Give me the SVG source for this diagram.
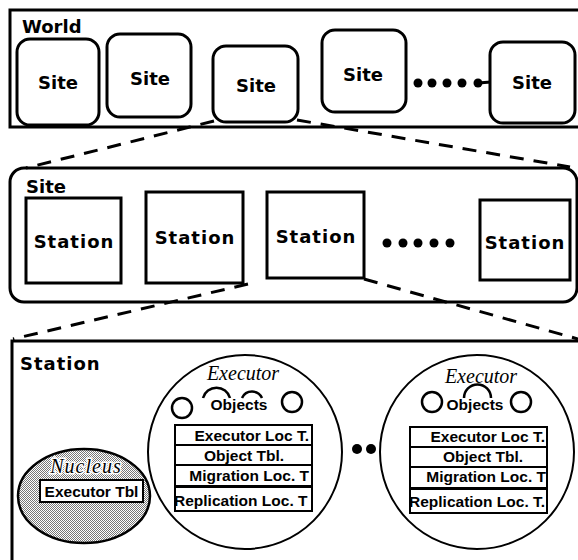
<svg xmlns="http://www.w3.org/2000/svg" width="578" height="560" viewBox="0 0 578 560">
  <defs>
    <!-- fine dither used for the nucleus fill -->
    <pattern id="dither" width="2" height="2" patternUnits="userSpaceOnUse">
      <rect width="2" height="2" fill="#fff"/>
      <rect width="1" height="1" fill="#777"/>
      <rect x="1" y="1" width="1" height="1" fill="#777"/>
    </pattern>
  </defs>
  <style>
    .frame{fill:none;stroke:#000;stroke-width:3}
    .box{fill:#fff;stroke:#000;stroke-width:3}
    .chi{font-family:"DejaVu Sans","Liberation Sans",sans-serif;font-weight:bold;font-size:18px;fill:#000}
    .mid{text-anchor:middle}
    .end{text-anchor:end}
    .ital{font-family:"Liberation Serif","Times New Roman",serif;font-style:italic;font-size:20px;fill:#000}
    .tbl{font-family:"Liberation Sans",Arial,sans-serif;font-weight:bold;font-size:15.5px;fill:#000}
    .row{fill:#fff;stroke:#000;stroke-width:2}
    .ring{fill:#fff;stroke:#000;stroke-width:2}
    .small{fill:none;stroke:#000;stroke-width:2.5}
    .dash{fill:none;stroke:#000;stroke-width:3;stroke-dasharray:14 10}
    .dot{fill:#000}
  </style>
  <rect width="578" height="560" fill="#fff"/>

  <!-- World level -->
  <g id="world">
    <rect class="frame" x="10" y="10" width="600" height="117"/>
    <text class="chi" x="22" y="33">World</text>
  </g>
  <g id="world-site-1">
    <rect class="box" x="17" y="39" width="82" height="86" rx="13"/>
    <text class="chi mid" x="58" y="89">Site</text>
  </g>
  <g id="world-site-2">
    <rect class="box" x="107" y="34" width="84" height="83" rx="13"/>
    <text class="chi mid" x="150" y="85">Site</text>
  </g>
  <g id="world-site-3">
    <rect class="box" x="213" y="46" width="85" height="76" rx="13"/>
    <text class="chi mid" x="256" y="92">Site</text>
  </g>
  <g id="world-site-4">
    <rect class="box" x="322" y="30" width="84" height="82" rx="13"/>
    <text class="chi mid" x="363" y="81">Site</text>
  </g>
  <g id="world-ellipsis">
    <circle class="dot" cx="418" cy="83" r="4.5"/>
    <circle class="dot" cx="432" cy="83" r="4.5"/>
    <circle class="dot" cx="447" cy="83" r="4.5"/>
    <circle class="dot" cx="462" cy="83" r="4.5"/>
    <circle class="dot" cx="478" cy="83" r="4.5"/>
    <line x1="478" y1="83" x2="491" y2="82" stroke="#000" stroke-width="3"/>
  </g>
  <g id="world-site-5">
    <rect class="box" x="490" y="42" width="85" height="81" rx="13"/>
    <text class="chi mid" x="532" y="89">Site</text>
  </g>

  <!-- Site level -->
  <g id="site">
    <rect class="frame" x="10" y="168" width="567" height="134" rx="14"/>
    <text class="chi" x="26" y="193">Site</text>
  </g>
  <g id="station-1">
    <rect class="box" x="26" y="198" width="95" height="85"/>
    <text class="chi mid" x="74" y="248" letter-spacing="1">Station</text>
  </g>
  <g id="station-2">
    <rect class="box" x="146" y="192" width="97" height="91"/>
    <text class="chi mid" x="195" y="244" letter-spacing="1">Station</text>
  </g>
  <g id="station-3">
    <rect class="box" x="267" y="192" width="97" height="86"/>
    <text class="chi mid" x="316" y="243" letter-spacing="1">Station</text>
  </g>
  <g id="site-ellipsis">
    <circle class="dot" cx="387" cy="243" r="4.5"/>
    <circle class="dot" cx="403" cy="243" r="4.5"/>
    <circle class="dot" cx="418" cy="243" r="4.5"/>
    <circle class="dot" cx="434" cy="243" r="4.5"/>
    <circle class="dot" cx="450" cy="243" r="4.5"/>
  </g>
  <g id="station-4">
    <rect class="box" x="480" y="200" width="90" height="80"/>
    <text class="chi mid" x="525" y="249" letter-spacing="1">Station</text>
  </g>

  <!-- Station level -->
  <g id="station">
    <path class="frame" d="M12 562 V341 H582"/>
    <text class="chi" x="20" y="370" letter-spacing="1">Station</text>
  </g>
  <g id="nucleus">
    <ellipse cx="84" cy="496" rx="66" ry="47" fill="url(#dither)" stroke="#000" stroke-width="2.5"/>
    <text class="ital" x="86" y="473" text-anchor="middle" letter-spacing="1" stroke="#fff" stroke-width="3" paint-order="stroke">Nucleus</text>
    <rect class="row" x="40" y="480" width="103" height="22"/>
    <text class="tbl mid" x="91.5" y="497" font-size="16">Executor Tbl</text>
  </g>
  <g id="executor-1">
    <circle class="ring" cx="245" cy="452" r="97"/>
    <text class="ital mid" x="243" y="380">Executor</text>
    <circle class="small" cx="182" cy="408" r="10"/>
    <circle class="small" cx="292" cy="402" r="10"/>
    <path class="small" d="M203 398 A14 14 0 0 1 230 398"/>
    <path class="small" d="M242 398 A11 11 0 0 1 262 398"/>
    <text class="tbl mid" x="239" y="410" font-size="16">Objects</text>
    <rect class="row" x="175" y="425" width="137" height="20"/>
    <rect class="row" x="175" y="445" width="137" height="20"/>
    <rect class="row" x="175" y="465" width="137" height="21"/>
    <rect class="row" x="175" y="487" width="137" height="24"/>
    <line x1="175" y1="486.5" x2="312" y2="486.5" stroke="#000" stroke-width="3"/>
    <text class="tbl end" x="309" y="441">Executor Loc T.</text>
    <text class="tbl mid" x="244" y="461">Object Tbl.</text>
    <text class="tbl end" x="309" y="481">Migration Loc. T</text>
    <text class="tbl" x="174" y="506">Replication Loc. T</text>
  </g>
  <g id="executor-ellipsis">
    <ellipse class="dot" cx="357" cy="449" rx="5" ry="5"/>
    <ellipse class="dot" cx="371" cy="449" rx="5" ry="5"/>
  </g>
  <g id="executor-2">
    <circle class="ring" cx="477" cy="452" r="97"/>
    <text class="ital mid" x="481" y="383">Executor</text>
    <circle class="small" cx="432" cy="402" r="10"/>
    <circle class="small" cx="521" cy="402" r="10"/>
    <path class="small" d="M464 398 A13.5 13.5 0 0 1 491 398"/>
    <text class="tbl mid" x="475" y="410" font-size="16">Objects</text>
    <rect class="row" x="410" y="427" width="137" height="20"/>
    <rect class="row" x="410" y="447" width="137" height="20"/>
    <rect class="row" x="410" y="467" width="137" height="21"/>
    <rect class="row" x="410" y="489" width="137" height="24"/>
    <line x1="410" y1="488.5" x2="547" y2="488.5" stroke="#000" stroke-width="3"/>
    <text class="tbl end" x="545" y="442">Executor Loc T.</text>
    <text class="tbl mid" x="483" y="462">Object Tbl.</text>
    <text class="tbl end" x="546" y="482">Migration Loc. T</text>
    <text class="tbl" x="409" y="507">Replication Loc. T.</text>
  </g>

  <!-- zoom-in connectors -->
  <g id="connectors">
    <line class="dash" x1="214" y1="121" x2="26" y2="168"/>
    <line class="dash" x1="297" y1="120" x2="570" y2="167"/>
    <line class="dash" x1="248" y1="284" x2="13" y2="339"/>
    <line class="dash" x1="364" y1="279" x2="578" y2="339"/>
  </g>
</svg>
